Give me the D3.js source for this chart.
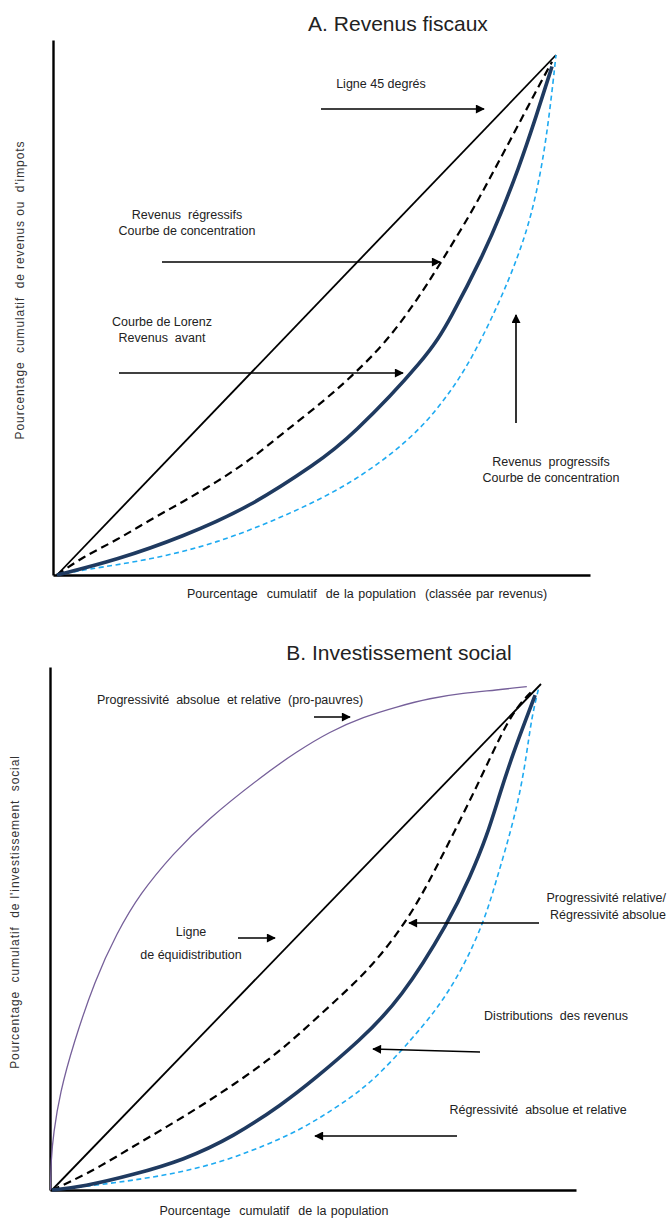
<!DOCTYPE html>
<html>
<head>
<meta charset="utf-8">
<script src="https://cdn.jsdelivr.net/npm/d3@7"></script>
<style>
  body { margin: 0; background: #fff; }
  svg { display: block; }
  text { font-family: "Liberation Sans", Arial, sans-serif; fill: #222; }
  .note { font-size: 12.5px; }
  .title { font-size: 21px; }
  .ylab { font-size: 12px; letter-spacing: 0.9px; fill: #333; }
  .xlab { font-size: 12.5px; word-spacing: 1px; }
</style>
</head>
<body>
<div id="chart"></div>
<script>
// Cumulative % of population (x) vs cumulative % of income / tax / spending (y)
var equalityLine = [[0, 0], [100, 100]];

// Panel A - Revenus fiscaux
var regressiveA = [[0, 0], [5.2, 3.5], [12.0, 6.7], [18.6, 10.6], [25.3, 14.1], [32.0, 17.9],
  [38.7, 22.1], [45.3, 27.3], [53.8, 33.7], [59.8, 38.9], [65.8, 44.6], [72.2, 52.9],
  [77.0, 60.2], [83.0, 69.6], [87.3, 77.3], [91.6, 85.0], [95.8, 92.7], [99.2, 98.7]];
var lorenzA = [[0, 0], [12.0, 2.9], [25.3, 7.4], [38.7, 13.1], [52.0, 21.5], [58.7, 26.3],
  [74.3, 42.0], [78.7, 49.0], [85.6, 61.9], [89.0, 69.6],
  [92.4, 77.9], [95.8, 87.5], [99.2, 97.8]];
var progressiveA = [[0, 0], [5.3, 1.0], [18.6, 2.9], [32.0, 6.1], [45.4, 11.2], [58.7, 17.3],
  [70.9, 26.0], [77.8, 33.7], [83.0, 41.3], [88.6, 52.3], [92.4, 61.2],
  [95.0, 68.9], [97.2, 78.5], [98.8, 89.4], [100, 100]];

// Panel B - Investissement social
var proPoorB = [[-0.3, 0], [-0.2, 5.9], [0.3, 11.2], [1.6, 19.1], [4.4, 29.0], [8.8, 41.5],
  [13.2, 50.7], [18.0, 58.6], [24.8, 66.5], [31.6, 73.1],
  [43.2, 82.0], [50.0, 86.6], [56.8, 90.6], [63.7, 93.5], [70.5, 95.5], [77.3, 97.2],
  [84.1, 98.2], [90.9, 98.8], [97.1, 99.5]];
var relativeB = [[0, 0], [3.7, 1.6], [9.8, 4.6], [16.6, 8.6], [23.5, 12.5], [30.3, 16.5],
  [37.1, 20.8], [43.9, 25.4], [50.0, 30.3], [57.5, 37.0], [65.5, 44.1], [73.2, 54.0],
  [78.0, 62.6], [82.8, 71.8], [87.5, 81.0], [91.6, 89.6], [95.0, 95.5], [98.4, 98.8]];
var incomeB = [[0, 0], [6.4, 0.65], [16.6, 3.0], [26.9, 5.9], [37.1, 10.5], [47.3, 17.1],
  [53.4, 21.7], [63.0, 29.6], [71.2, 37.5], [81.4, 53.4], [85.5, 61.9], [88.9, 69.8],
  [91.6, 78.4], [94.3, 86.3], [97.1, 93.5], [98.8, 97.8]];
var regressiveB = [[0, 0], [6.4, 0.65], [20.0, 2.3], [33.7, 5.0], [47.3, 10.2], [54.1, 13.8],
  [60.9, 18.1], [65.7, 21.7], [71.8, 27.9], [74.8, 31.3], [78.6, 35.6], [83.9, 43.5],
  [88.5, 53.4], [90.9, 61.3], [93.7, 70.5], [95.7, 78.4], [97.1, 86.3], [98.1, 93.5],
  [99.6, 99.5]];

var titles = ["A. Revenus fiscaux", "B. Investissement social"];
var xLabels = ["Pourcentage  cumulatif  de la population  (classée par revenus)",
  "Pourcentage  cumulatif  de la population"];
var yLabels = ["Pourcentage  cumulatif  de revenus ou  d'impots",
  "Pourcentage  cumulatif  de l'investissement  social"];

var W = 668, H = 1218;
var NAVY = "#1f3a60", SKY = "#1eaaf1", PURPLE = "#76609a";

var svg = d3.select("#chart").append("svg")
  .attr("width", W)
  .attr("height", H);

svg.append("defs").append("marker")
  .attr("id", "head")
  .attr("viewBox", "0 0 10 10")
  .attr("refX", 9).attr("refY", 5)
  .attr("markerWidth", 10).attr("markerHeight", 9)
  .attr("markerUnits", "userSpaceOnUse")
  .attr("orient", "auto")
  .append("path")
  .attr("d", "M0,0 L10,5 L0,10 Z")
  .attr("fill", "#000");

function drawPanel(p) {
  var g = svg.append("g");
  var x = d3.scaleLinear().domain([0, 100]).range(p.xr);
  var y = d3.scaleLinear().domain([0, 100]).range(p.yr);

  // axes as bare lines, no ticks
  var xa = d3.scaleLinear().domain([0, 1]).range(p.xAxis);
  var ya = d3.scaleLinear().domain([0, 1]).range(p.yAxis);
  g.append("g")
    .attr("transform", "translate(0," + p.yAxis[0] + ")")
    .call(d3.axisBottom(xa).tickValues([]).tickSizeOuter(0))
    .select(".domain").attr("stroke", "#000").attr("stroke-width", 2.6);
  g.append("g")
    .attr("transform", "translate(" + p.xAxis[0] + ",0)")
    .call(d3.axisLeft(ya).tickValues([]).tickSizeOuter(0))
    .select(".domain").attr("stroke", "#000").attr("stroke-width", 2.4);

  var curve = d3.line()
    .x(function(d) { return x(d[0]); })
    .y(function(d) { return y(d[1]); })
    .curve(d3.curveBasis);
  var straight = d3.line()
    .x(function(d) { return x(d[0]); })
    .y(function(d) { return y(d[1]); });

  p.series.forEach(function(s) {
    g.append("path")
      .datum(s.data)
      .attr("d", s.straight ? straight : curve)
      .attr("fill", "none")
      .attr("stroke", s.color)
      .attr("stroke-width", s.width)
      .attr("stroke-dasharray", s.dash || null);
  });

  g.append("text").attr("class", "title")
    .attr("x", p.title[0]).attr("y", p.title[1])
    .attr("text-anchor", "middle")
    .text(p.title[2]);

  g.append("text").attr("class", "xlab")
    .attr("x", p.xlab[0]).attr("y", p.xlab[1])
    .attr("text-anchor", "middle")
    .style("white-space", "pre")
    .text(p.xlab[2]);

  g.append("text").attr("class", "ylab")
    .attr("transform", "translate(" + p.ylab[0] + "," + p.ylab[1] + ") rotate(-90)")
    .attr("text-anchor", "middle")
    .style("white-space", "pre")
    .text(p.ylab[2]);

  p.notes.forEach(function(n) {
    var t = g.append("text").attr("class", "note")
      .attr("text-anchor", n.anchor || "middle")
      .style("white-space", "pre");
    n.lines.forEach(function(l, i) {
      t.append("tspan").attr("x", n.x).attr("y", n.y + i * n.lh).text(l);
    });
  });

  p.arrows.forEach(function(a) {
    g.append("line")
      .attr("x1", a[0]).attr("y1", a[1])
      .attr("x2", a[2]).attr("y2", a[3])
      .attr("stroke", "#000")
      .attr("stroke-width", 1.6)
      .attr("marker-end", "url(#head)");
  });
}

drawPanel({
  xr: [57, 556], yr: [575, 55],
  xAxis: [53, 590], yAxis: [575, 40],
  title: [398, 31, titles[0]],
  xlab: [367, 598, xLabels[0]],
  ylab: [24, 290, yLabels[0]],
  series: [
    { data: equalityLine, color: "#000", width: 1.8, straight: true },
    { data: progressiveA, color: SKY, width: 1.6, dash: "5,3.5" },
    { data: regressiveA, color: "#000", width: 2.2, dash: "8,5" },
    { data: lorenzA, color: NAVY, width: 3.6 }
  ],
  notes: [
    { x: 381, y: 88, lh: 16, lines: ["Ligne 45 degrés"] },
    { x: 187, y: 219, lh: 16, lines: ["Revenus  régressifs", "Courbe de concentration"] },
    { x: 162, y: 326, lh: 16, lines: ["Courbe de Lorenz", "Revenus  avant"] },
    { x: 551, y: 466, lh: 16, lines: ["Revenus  progressifs", "Courbe de concentration"] }
  ],
  arrows: [
    [321, 109, 484, 109],
    [162, 262, 440, 262],
    [119, 373, 403, 373],
    [516, 423, 516, 315]
  ]
});

drawPanel({
  xr: [52, 541], yr: [1190, 684],
  xAxis: [50, 576], yAxis: [1190, 667],
  title: [399, 660, titles[1]],
  xlab: [274, 1215, xLabels[1]],
  ylab: [19, 912, yLabels[1]],
  series: [
    { data: proPoorB, color: PURPLE, width: 1.3 },
    { data: equalityLine, color: "#000", width: 1.8, straight: true },
    { data: regressiveB, color: SKY, width: 1.6, dash: "5,3.5" },
    { data: relativeB, color: "#000", width: 2.2, dash: "8,5" },
    { data: incomeB, color: NAVY, width: 3.6 }
  ],
  notes: [
    { x: 230, y: 704, lh: 16, lines: ["Progressivité  absolue  et relative  (pro-pauvres)"] },
    { x: 666, y: 902, lh: 17, anchor: "end", lines: ["Progressivité relative/", "Régressivité absolue"] },
    { x: 191, y: 936, lh: 23, lines: ["Ligne", "de équidistribution"] },
    { x: 556, y: 1020, lh: 16, lines: ["Distributions  des revenus"] },
    { x: 538, y: 1114, lh: 16, lines: ["Régressivité  absolue et relative"] }
  ],
  arrows: [
    [314, 717, 350, 717],
    [539, 923, 409, 923],
    [238, 938, 275, 938],
    [480, 1052, 373, 1049],
    [457, 1136, 315, 1136]
  ]
});
</script>
</body>
</html>
